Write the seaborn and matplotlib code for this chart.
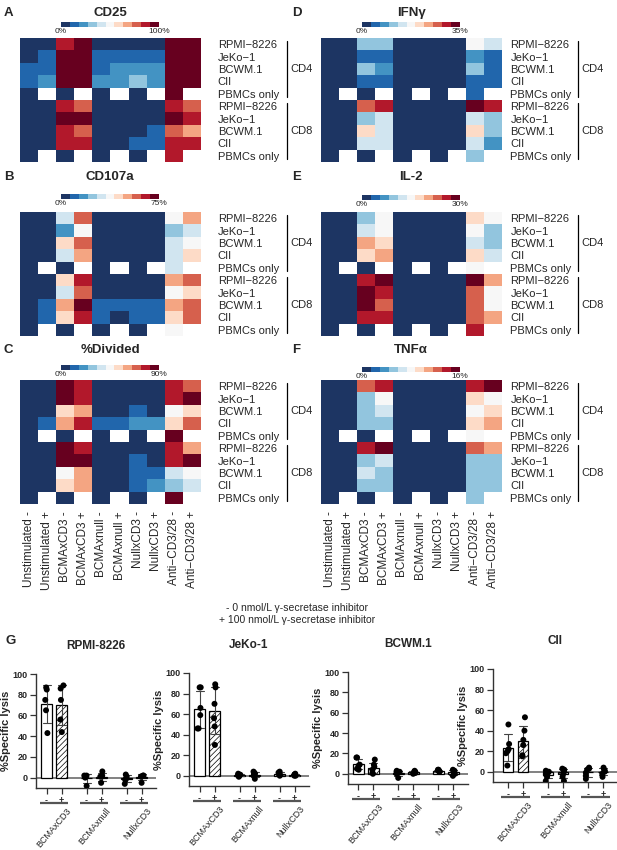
import numpy as np
import pandas as pd
import matplotlib
matplotlib.use('Agg')
import matplotlib.pyplot as plt
import seaborn as sns
from matplotlib.colors import ListedColormap

sns.set_style('ticks')
plt.rcParams['font.family'] = ['Liberation Sans', 'DejaVu Sans']
plt.rcParams['hatch.linewidth'] = 0.5
plt.rcParams['hatch.color'] = '#444444'
np.random.seed(3)

nan = np.nan

# ---- heatmap data (colour class 0..10 of the 11-step scale, nan = not tested) ----
conditions = ['Unstimulated -', 'Unstimulated +', 'BCMAxCD3 -', 'BCMAxCD3 +',
              'BCMAxnull -', 'BCMAxnull +', 'NullxCD3 -', 'NullxCD3 +',
              'Anti\u2212CD3/28 -', 'Anti\u2212CD3/28 +']
targets = ['RPMI\u22128226', 'JeKo\u22121', 'BCWM.1', 'CII', 'PBMCs only']
row_labels = targets + targets

cd25 = [[0, 0, 9, 10, 0, 0, 0, 0, 10, 10],
        [0, 1, 10, 10, 1, 1, 1, 1, 10, 10],
        [1, 1, 10, 10, 1, 2, 2, 2, 10, 10],
        [1, 2, 10, 10, 2, 2, 3, 2, 10, 10],
        [0, nan, 0, nan, 0, nan, 0, nan, 10, nan],
        [0, 0, 9, 8, 0, 0, 0, 0, 9, 8],
        [0, 0, 10, 10, 0, 0, 0, 0, 10, 9],
        [0, 0, 9, 8, 0, 0, 0, 1, 8, 7],
        [0, 0, 9, 9, 0, 0, 1, 1, 9, 9],
        [0, nan, 0, nan, 0, nan, 0, nan, 9, nan]]

cd107a = [[0, 0, 4, 8, 0, 0, 0, 0, 5, 7],
          [0, 0, 2, 5, 0, 0, 0, 0, 3, 4],
          [0, 0, 6, 8, 0, 0, 0, 0, 4, 5],
          [0, 0, 4, 7, 0, 0, 0, 0, 4, 6],
          [0, nan, 0, nan, 0, nan, 0, nan, 4, nan],
          [0, 0, 6, 9, 0, 0, 0, 0, 7, 8],
          [0, 0, 4, 8, 0, 0, 0, 0, 5, 6],
          [0, 1, 7, 10, 1, 1, 1, 1, 7, 8],
          [0, 1, 6, 9, 1, 0, 1, 1, 6, 8],
          [0, nan, 0, nan, 0, nan, 0, nan, 5, nan]]

divided = [[0, 0, 10, 9, 0, 0, 0, 0, 9, 8],
           [0, 0, 10, 9, 0, 0, 0, 0, 9, 10],
           [0, 0, 6, 7, 0, 0, 1, 0, 5, 6],
           [0, 1, 7, 9, 1, 1, 2, 2, 6, 8],
           [0, nan, 0, nan, 0, nan, 0, nan, 10, nan],
           [0, 0, 10, 9, 0, 0, 0, 0, 9, 7],
           [0, 0, 10, 10, 0, 0, 1, 0, 9, 10],
           [0, 0, 5, 7, 0, 0, 1, 1, 4, 5],
           [0, 0, 6, 7, 0, 0, 1, 2, 3, 4],
           [0, nan, 0, nan, 0, nan, 0, nan, 10, nan]]

ifng = [[0, 0, 3, 3, 0, 0, 0, 0, 5, 4],
        [0, 0, 1, 1, 0, 0, 0, 0, 2, 1],
        [0, 0, 3, 2, 0, 0, 0, 0, 3, 1],
        [0, 0, 1, 1, 0, 0, 0, 0, 1, 1],
        [0, nan, 0, nan, 0, nan, 0, nan, 1, nan],
        [0, 0, 8, 9, 0, 0, 0, 0, 10, 9],
        [0, 0, 3, 4, 0, 0, 0, 0, 4, 3],
        [0, 0, 6, 4, 0, 0, 0, 0, 6, 3],
        [0, 0, 4, 4, 0, 0, 0, 0, 4, 2],
        [0, nan, 0, nan, 0, nan, 0, nan, 3, nan]]

il2 = [[0, 0, 3, 5, 0, 0, 0, 0, 6, 5],
       [0, 0, 4, 5, 0, 0, 0, 0, 5, 3],
       [0, 0, 7, 6, 0, 0, 0, 0, 4, 3],
       [0, 0, 6, 7, 0, 0, 0, 0, 6, 4],
       [0, nan, 0, nan, 0, nan, 0, nan, 5, nan],
       [0, 0, 9, 10, 0, 0, 0, 0, 10, 7],
       [0, 0, 10, 9, 0, 0, 0, 0, 8, 5],
       [0, 0, 10, 8, 0, 0, 0, 0, 8, 5],
       [0, 0, 9, 9, 0, 0, 0, 0, 8, 7],
       [0, nan, 0, nan, 0, nan, 0, nan, 9, nan]]

tnfa = [[0, 0, 8, 9, 0, 0, 0, 0, 9, 10],
        [0, 0, 3, 5, 0, 0, 0, 0, 6, 5],
        [0, 0, 3, 4, 0, 0, 0, 0, 5, 6],
        [0, 0, 3, 3, 0, 0, 0, 0, 6, 7],
        [0, nan, 0, nan, 0, nan, 0, nan, 5, nan],
        [0, 0, 9, 10, 0, 0, 0, 0, 8, 7],
        [0, 0, 3, 4, 0, 0, 0, 0, 3, 3],
        [0, 0, 4, 3, 0, 0, 0, 0, 3, 3],
        [0, 0, 3, 3, 0, 0, 0, 0, 3, 3],
        [0, nan, 0, nan, 0, nan, 0, nan, 3, nan]]

scale_colors = ['#1d3563', '#2166ac', '#4393c3', '#92c5de', '#d1e5f0', '#f7f7f7',
                '#fddbc7', '#f4a582', '#d6604d', '#b2182b', '#67001f']

# ---- specific lysis data (panel G) ----
groups = ['BCMAxCD3', 'BCMAxnull', 'NullxCD3']
rpmi_minus = [[87, 85, 75, 65, 43], [2, 1, 2, 0, -8], [-2, 1, 3, -6, -1]]
rpmi_plus = [[89, 86, 75, 56, 44], [6, 1, 2, -5, 1], [2, 1, 1, -5, 2]]
jeko_minus = [[86, 86, 66, 59, 46, 46], [1, 0, -1, 1, 0, 2], [2, 3, 0, 1, 4, 1]]
jeko_plus = [[86, 89, 70, 56, 48, 30], [3, -3, 1, 0, 2, 4], [1, 0, 1, 2, 0, 1]]
bcwm_minus = [[16, 16, 9, 5, 4, 8], [3, 2, 0, -4, 1, 2], [3, 4, 2, 3, 4, 2]]
bcwm_plus = [[14, 9, 7, 4, 1, 0], [3, 2, 1, 0, 1, 2], [3, 2, 1, -2, 4, 0]]
cii_minus = [[46, 27, 22, 20, 18, 6], [1, 0, -1, -3, -5, -9], [4, 2, -1, -4, -7, 3]]
cii_plus = [[53, 40, 31, 26, 16, 15], [3, 2, 0, -2, -5, -9], [4, 0, -2, -5, 2, 1]]

W, H = 617, 850
fig = plt.figure(figsize=(W / 100, H / 100), dpi=100)
cmap = ListedColormap(scale_colors)


def box(x0, y0, x1, y1):
    return [x0 / W, 1 - y1 / H, (x1 - x0) / W, (y1 - y0) / H]


def fline(x0, y0, x1, y1, **kw):
    fig.add_artist(plt.Line2D([x0 / W, x1 / W], [1 - y0 / H, 1 - y1 / H],
                              transform=fig.transFigure, **kw))


def ftext(x, y, s, **kw):
    fig.text(x / W, 1 - y / H, s, **kw)


def heat(levels, title, letter, vmax, x0, y0, title_y, cbar_y, lab_pad, br_x, xlabels):
    ax = fig.add_axes(box(x0, y0, x0 + 181, y0 + 124))
    cax = fig.add_axes(box(x0 + 41, cbar_y, x0 + 139, cbar_y + 5))
    df = pd.DataFrame(levels, index=row_labels, columns=conditions)
    sns.heatmap(df, ax=ax, cmap=cmap, vmin=-0.5, vmax=10.5, cbar_ax=cax,
                cbar_kws={'orientation': 'horizontal'},
                xticklabels=xlabels, yticklabels=row_labels)
    ax.yaxis.tick_right()
    ax.tick_params(axis='y', length=0, pad=lab_pad, labelsize=8, labelrotation=0)
    ax.tick_params(axis='x', length=0, pad=5, labelsize=8.5, labelrotation=90)
    ax.set_xlabel('')
    ax.set_ylabel('')
    cbar = ax.collections[0].colorbar
    cbar.set_ticks([-0.5, 10.5], labels=['0%', vmax])
    cbar.outline.set_visible(False)
    cax.tick_params(length=0, labelsize=6, pad=0.5)
    ftext(x0 + 90, title_y, title, ha='center', va='center', fontsize=9.5, fontweight='bold')
    ftext(x0 - 16 if x0 < 100 else x0 - 29, title_y, letter, ha='left', va='center',
          fontsize=9.5, fontweight='bold')
    # CD4 / CD8 brackets
    fline(br_x, y0 + 3, br_x, y0 + 59, color='k', lw=0.9)
    fline(br_x, y0 + 65, br_x, y0 + 121, color='k', lw=0.9)
    ftext(br_x + 3, y0 + 31, 'CD4', ha='left', va='center', fontsize=8)
    ftext(br_x + 3, y0 + 93, 'CD8', ha='left', va='center', fontsize=8)
    return ax


heat(cd25, 'CD25', 'A', '100%', 20, 38, 13, 22, 12, 287, False)
heat(cd107a, 'CD107a', 'B', '75%', 20, 212, 177, 194, 12, 287, False)
heat(divided, '%Divided', 'C', '90%', 20, 380, 350, 365, 12, 287, conditions)
heat(ifng, 'IFN\u03b3', 'D', '35%', 321, 38, 13, 22, 6, 578, False)
heat(il2, 'IL-2', 'E', '30%', 321, 212, 177, 195, 6, 578, False)
heat(tnfa, 'TNF\u03b1', 'F', '16%', 321, 380, 350, 367, 6, 578, conditions)

ftext(297, 608, '- 0 nmol/L \u03b3-secretase inhibitor', ha='center', va='center', fontsize=7.5)
ftext(297, 620, '+ 100 nmol/L \u03b3-secretase inhibitor', ha='center', va='center', fontsize=7.5)
ftext(5, 641, 'G', ha='left', va='center', fontsize=9.5, fontweight='bold')


def lysis_panel(title, minus, plus, rect, xlim):
    rows = []
    for g, vals in zip(groups, minus):
        rows += [(g, '-', v) for v in vals]
    for g, vals in zip(groups, plus):
        rows += [(g, '+', v) for v in vals]
    df = pd.DataFrame(rows, columns=['group', 'cond', 'lysis'])
    ax = fig.add_axes(box(*rect))
    ax.axhline(0, color='#777777', lw=1.3, zorder=0)
    sns.barplot(data=df, x='group', y='lysis', hue='cond', order=groups,
                hue_order=['-', '+'], errorbar='sd', width=0.75, gap=0.33,
                capsize=0.4, err_kws={'color': '#444444', 'linewidth': 0.8},
                palette={'-': 'white', '+': 'white'}, edgecolor='k',
                linewidth=0.9, legend=False, ax=ax)
    for bar in ax.containers[1]:
        bar.set_hatch('//////')
    sns.stripplot(data=df, x='group', y='lysis', hue='cond', order=groups,
                  hue_order=['-', '+'], dodge=True, jitter=0.09,
                  palette={'-': 'k', '+': 'k'}, size=4.3, legend=False, ax=ax)
    pos = [i + d for i in range(3) for d in (-0.1875, 0.1875)]
    ax.set_xticks(pos, ['-', '+'] * 3)
    ax.set_xlim(*xlim)
    ax.set_ylim(-10, 100)
    ax.set_yticks([0, 20, 40, 60, 80, 100])
    ax.tick_params(axis='both', length=4, width=0.9, color='#333333', labelsize=6.5, pad=2)
    for lab in ax.get_xticklabels() + ax.get_yticklabels():
        lab.set_fontweight('bold')
    for s in ['top', 'right']:
        ax.spines[s].set_visible(False)
    for s in ['left', 'bottom']:
        ax.spines[s].set_color('#333333')
        ax.spines[s].set_linewidth(1.0)
    ax.set_xlabel('')
    ax.set_ylabel('%Specific lysis', fontsize=8, fontweight='bold', labelpad=1)
    ax.set_title(title, fontsize=8.5, fontweight='bold', pad=18)
    tr = ax.get_xaxis_transform()
    for i, g in enumerate(groups):
        ax.plot([i - 0.36, i + 0.36], [-0.135, -0.135], transform=tr, color='#555555',
                lw=1.6, clip_on=False, solid_capstyle='butt')
        ax.text(i + 0.3, -0.16, g, transform=tr, rotation=50, rotation_mode='anchor',
                ha='right', va='top', fontsize=6.5)
    return ax


lysis_panel('RPMI-8226', rpmi_minus, rpmi_plus, (36, 674, 156, 788), (-0.45, 2.55))
lysis_panel('JeKo-1', jeko_minus, jeko_plus, (189, 673, 309, 786), (-0.45, 2.55))
lysis_panel('BCWM.1', bcwm_minus, bcwm_plus, (348, 672, 468, 784), (-0.45, 2.55))
lysis_panel('CII', cii_minus, cii_plus, (493, 669, 617, 782), (-0.56, 2.54))

fig.savefig('out.png', dpi=100)
